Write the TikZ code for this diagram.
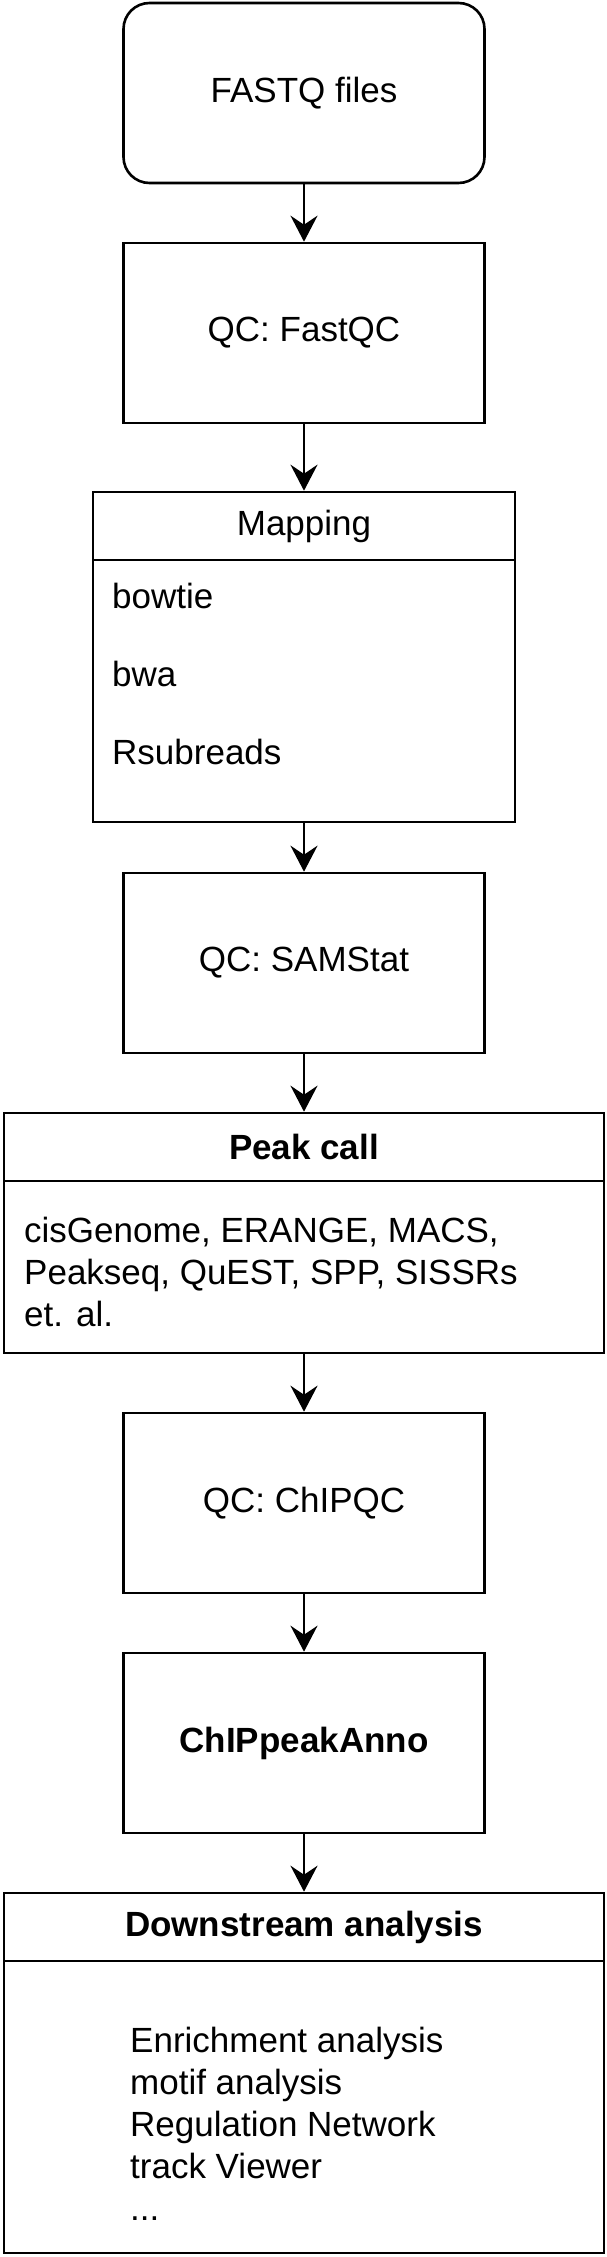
\documentclass[tikz,border=0pt]{standalone}
\usepackage{fontspec}
\setmainfont{Liberation Sans}
\usepackage{tikz}
\usetikzlibrary{arrows.meta}

\begin{document}
\begin{tikzpicture}[x=1pt, y=-1pt, >={Stealth[length=26pt, width=27pt, inset=9pt]},
    every node/.style={font=\fontsize{35}{42}\selectfont},
    stage/.style={draw, line width=2.6pt, minimum width=361pt, minimum height=180pt, inner sep=0pt},
    lanehead/.style={draw, line width=2.6pt, minimum height=68pt, inner sep=0pt, outer sep=0pt},
    lanebody/.style={draw, line width=2.6pt, anchor=north, inner sep=0pt, outer sep=0pt},
    item/.style={inner sep=0pt, align=left},
    flow/.style={line width=2.6pt, ->}]
    \useasboundingbox (0,0) rectangle (607,2257);

    % Input and first QC
    \node[stage, rounded corners=26pt] (fastq) at (304,93) {FASTQ files};
    \node[stage] (fastqc) at (304,333) {QC: FastQC};

    % Mapping lane
    \node[lanehead, minimum width=422pt] (maphead) at (304,526) {Mapping};
    \node[lanebody, minimum width=422pt, minimum height=262pt] (mapbody) at (maphead.south) {};
    \node[item, anchor=west] (bowtie) at (112,596) {bowtie};
    \node[item, anchor=west] (bwa) at (112,674) {bwa};
    \node[item, anchor=west] (rsub) at (112,752) {Rsubreads};

    \node[stage] (samstat) at (304,963) {QC: SAMStat};

    % Peak call lane
    \node[lanehead, minimum width=600pt] (peakhead) at (304,1147) {\bfseries Peak call};
    \node[lanebody, minimum width=600pt, minimum height=172pt] (peakbody) at (peakhead.south) {};
    \node[item, anchor=north west] (callers) at (24,1217)
        {cisGenome, ERANGE, MACS,\\Peakseq, QuEST, SPP, SISSRs\\et. al.};

    \node[stage] (chipqc) at (304,1503) {QC: ChIPQC};
    \node[stage] (anno) at (304,1743) {\bfseries ChIPpeakAnno};

    % Downstream lane
    \node[lanehead, minimum width=600pt] (downhead) at (304,1927) {\bfseries Downstream analysis};
    \node[lanebody, minimum width=600pt, minimum height=292pt] (downbody) at (downhead.south) {};
    \node[item, anchor=north west] (tasks) at (130,2027)
        {Enrichment analysis\\motif analysis\\Regulation Network\\track Viewer\\...};

    % Connectors
    \draw[flow] (fastq) -- (fastqc);
    \draw[flow] (fastqc) -- ([yshift=1.3pt]maphead.north);
    \draw[flow] ([yshift=-1.3pt]mapbody.south) -- (samstat);
    \draw[flow] (samstat) -- ([yshift=1.3pt]peakhead.north);
    \draw[flow] ([yshift=-1.3pt]peakbody.south) -- (chipqc);
    \draw[flow] (chipqc) -- (anno);
    \draw[flow] (anno) -- ([yshift=1.3pt]downhead.north);
\end{tikzpicture}
\end{document}
